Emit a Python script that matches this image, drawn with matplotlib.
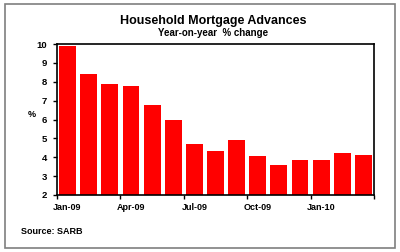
import matplotlib
matplotlib.use("Agg")
import matplotlib.pyplot as plt
from matplotlib.patches import Rectangle
import numpy as np

months = ["Jan-09", "Feb-09", "Mar-09", "Apr-09", "May-09", "Jun-09", "Jul-09",
          "Aug-09", "Sep-09", "Oct-09", "Nov-09", "Dec-09", "Jan-10", "Feb-10", "Mar-10"]
values = [9.9, 8.4, 7.9, 7.75, 6.75, 5.95, 4.7, 4.35, 4.9, 4.05, 3.6, 3.85, 3.85, 4.25, 4.1]
yticks = [2, 3, 4, 5, 6, 7, 8, 9, 10]
label_idx = [0, 3, 6, 9, 12]

plt.rcParams['font.family'] = ['Liberation Sans', 'DejaVu Sans']

W, H = 400, 252
fig = plt.figure(figsize=(W / 100, H / 100), dpi=100)
fig.patch.set_facecolor("white")
fig.add_artist(Rectangle((5 / W, 1 - 248 / H), 390 / W, 244 / H, transform=fig.transFigure,
                         fill=False, edgecolor="#7f7f7f", linewidth=1.2))

left, right, top, bottom = 57, 374, 44, 195
ax = fig.add_axes([left / W, 1 - bottom / H, (right - left) / W, (bottom - top) / H])
x = np.arange(len(values))
ax.bar(x, [v - 2 for v in values], bottom=2, width=0.8, color="#FF0000", edgecolor="none")
ax.set_xlim(-0.5, len(values) - 0.5)
ax.set_ylim(2, 10)
ax.set_yticks(yticks)
ax.set_yticklabels([str(t) for t in yticks], fontsize=6.8, fontweight="bold")
ax.set_xticks([i - 0.5 for i in label_idx] + [len(values) - 0.5])
ax.set_xticklabels([])
ax.set_xticks(label_idx, minor=True)
ax.set_xticklabels([months[i] for i in label_idx], minor=True, fontsize=6.5, fontweight="bold")
ax.tick_params(axis="x", which="minor", length=0, pad=6)
ax.tick_params(axis="x", which="major", length=3, width=1, direction="out")
ax.tick_params(axis="y", length=3, width=1, direction="out", pad=4)
for s in ax.spines.values():
    s.set_linewidth(1.2)
    s.set_color("black")

fig.text(213 / W, 1 - 21 / H, "Household Mortgage Advances", ha="center", va="center",
         fontsize=9, fontweight="bold")
fig.text(213 / W, 1 - 33 / H, "Year-on-year  % change", ha="center", va="center",
         fontsize=7, fontweight="bold")
fig.text(32 / W, 1 - 115 / H, "%", ha="center", va="center", fontsize=6.5, fontweight="bold")
fig.text(21 / W, 1 - 232 / H, "Source: SARB", ha="left", va="center", fontsize=6.5,
         fontweight="bold")

fig.savefig("out.png", dpi=100)
